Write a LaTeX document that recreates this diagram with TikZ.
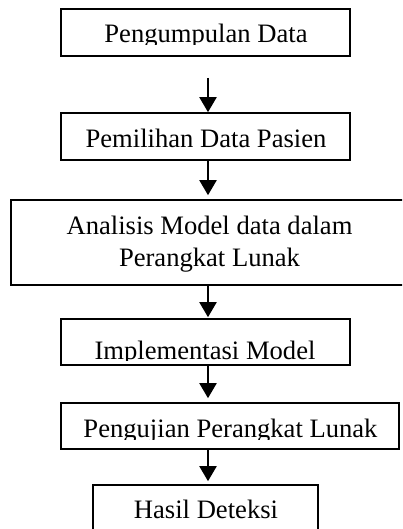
\documentclass[tikz,border=0pt]{standalone}
\usepackage{fontspec}
\setmainfont{Liberation Serif}
\usetikzlibrary{arrows.meta}
\begin{document}
\begin{tikzpicture}[x=1bp,y=-1bp,
  box/.style={draw=black, line width=1.6bp, rectangle, inner sep=0pt},
  txt/.style={inner sep=0pt, anchor=base, font=\fontsize{26.6bp}{32bp}\selectfont},
  arr/.style={line width=2bp, -{Triangle[width=17bp,length=15bp]}}]
\useasboundingbox (0,0) rectangle (402,529);
\clip (0,0) rectangle (402,529);
% boxes
\node[box, minimum width=289bp, minimum height=47bp] (b1) at (205.5,32.5) {};
\node[box, minimum width=289bp, minimum height=47bp] (b2) at (205.5,136.5) {};
\node[box, minimum width=399bp, minimum height=85bp] (b3) at (210.5,242.5) {};
\node[box, minimum width=289bp, minimum height=46bp] (b4) at (205.5,342) {};
\node[box, minimum width=338bp, minimum height=46bp] (b5) at (230,426) {};
\node[box, minimum width=225bp, minimum height=60bp] (b6) at (205.5,515) {};
% texts
\begin{scope}
  \clip (62,10) rectangle (349,45);
  \node[txt] (t1) at (206,43) {Pengumpulan Data};
\end{scope}
\node[txt] (t2) at (206,148) {Pemilihan Data Pasien};
\node[txt] (t3a) at (209.5,234) {Analisis Model data dalam};
\node[txt] (t3b) at (209.5,266) {Perangkat Lunak};
\begin{scope}
  \clip (62,320) rectangle (349,360.5);
  \node[txt] (t4) at (205,359) {Implementasi Model};
\end{scope}
\begin{scope}
  \clip (62,404) rectangle (398,439);
  \node[txt] (t5) at (230.5,437) {Pengujian Perangkat Lunak};
\end{scope}
\node[txt] (t6) at (206,518) {Hasil Deteksi};
% arrows
\coordinate (c1) at (208,78);
\draw[arr] (c1) -- (c1 |- b2.north);
\draw[arr, shorten >=4bp] (c1 |- b2.south) -- (c1 |- b3.north);
\draw[arr, shorten >=1bp] (c1 |- b3.south) -- (c1 |- b4.north);
\draw[arr, shorten >=4bp] (c1 |- b4.south) -- (c1 |- b5.north);
\draw[arr, shorten >=3bp] (c1 |- b5.south) -- (c1 |- b6.north);
\end{tikzpicture}
\end{document}
